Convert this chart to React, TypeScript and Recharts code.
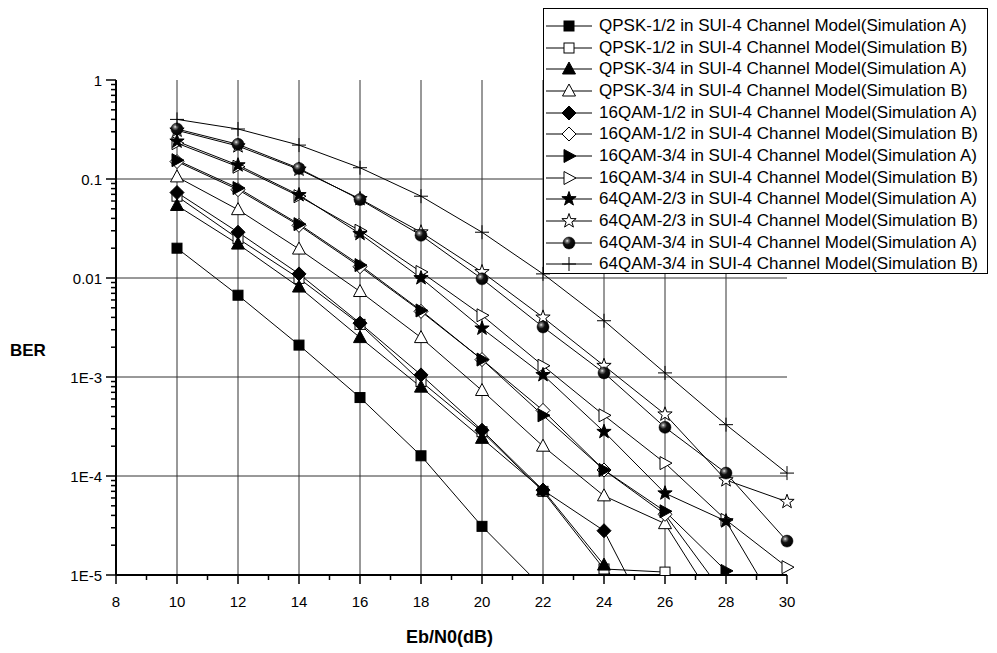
import React from 'react'
import { LineChart, Line, XAxis, YAxis, ReferenceLine } from 'recharts'

const xs = [10, 12, 14, 16, 18, 20, 22, 24, 26, 28, 30]

const qpsk12A = [0.02, 0.0067, 0.0021, 6.2e-4, 1.6e-4, 3.1e-5, 7.4e-6, null, null, null, null]
const qpsk12B = [0.067, 0.025, 0.0099, 0.0034, 9.0e-4, 2.8e-4, 7.0e-5, 1.15e-5, 1.07e-5, null, null]
const qpsk34A = [0.054, 0.022, 0.0081, 0.0025, 7.9e-4, 2.4e-4, 7.2e-5, 1.26e-5, 1.5e-6, null, null]
const qpsk34B = [0.105, 0.049, 0.0196, 0.0073, 0.0025, 7.3e-4, 2.0e-4, 6.3e-5, 3.3e-5, 3.5e-6, null]
const qam16_12A = [0.073, 0.029, 0.011, 0.0035, 0.00105, 2.9e-4, 7.2e-5, 2.8e-5, 1.8e-6, null, null]
const qam16_12B = [0.15, 0.078, 0.034, 0.013, 0.0046, 0.0015, 4.6e-4, 1.15e-4, 4.1e-5, 6e-6, null]
const qam16_34A = [0.155, 0.081, 0.035, 0.0135, 0.0047, 0.0015, 4.1e-4, 1.15e-4, 4.4e-5, 1.1e-5, 2e-6]
const qam16_34B = [0.23, 0.133, 0.067, 0.03, 0.0115, 0.0042, 0.0013, 4.1e-4, 1.35e-4, 3.6e-5, 1.2e-5]
const qam64_23A = [0.24, 0.138, 0.069, 0.028, 0.01, 0.0031, 0.00105, 2.8e-4, 6.7e-5, 3.5e-5, 3.2e-6]
const qam64_23B = [0.31, 0.215, 0.125, 0.063, 0.029, 0.0115, 0.004, 0.0013, 4.2e-4, 9.1e-5, 5.5e-5]
const qam64_34A = [0.32, 0.224, 0.128, 0.062, 0.027, 0.0098, 0.0032, 0.0011, 3.1e-4, 1.07e-4, 2.2e-5]
const qam64_34B = [0.4, 0.32, 0.22, 0.13, 0.067, 0.029, 0.011, 0.0037, 0.0011, 3.3e-4, 1.07e-4]

const series = [
  { key: 's0', name: 'QPSK-1/2 in SUI-4 Channel Model(Simulation A)', values: qpsk12A, shape: 'square', filled: true },
  { key: 's1', name: 'QPSK-1/2 in SUI-4 Channel Model(Simulation B)', values: qpsk12B, shape: 'square', filled: false },
  { key: 's2', name: 'QPSK-3/4 in SUI-4 Channel Model(Simulation A)', values: qpsk34A, shape: 'triUp', filled: true },
  { key: 's3', name: 'QPSK-3/4 in SUI-4 Channel Model(Simulation B)', values: qpsk34B, shape: 'triUp', filled: false },
  { key: 's4', name: '16QAM-1/2 in SUI-4 Channel Model(Simulation A)', values: qam16_12A, shape: 'diamond', filled: true },
  { key: 's5', name: '16QAM-1/2 in SUI-4 Channel Model(Simulation B)', values: qam16_12B, shape: 'diamond', filled: false },
  { key: 's6', name: '16QAM-3/4 in SUI-4 Channel Model(Simulation A)', values: qam16_34A, shape: 'triRight', filled: true },
  { key: 's7', name: '16QAM-3/4 in SUI-4 Channel Model(Simulation B)', values: qam16_34B, shape: 'triRight', filled: false },
  { key: 's8', name: '64QAM-2/3 in SUI-4 Channel Model(Simulation A)', values: qam64_23A, shape: 'star', filled: true },
  { key: 's9', name: '64QAM-2/3 in SUI-4 Channel Model(Simulation B)', values: qam64_23B, shape: 'star', filled: false },
  { key: 's10', name: '64QAM-3/4 in SUI-4 Channel Model(Simulation A)', values: qam64_34A, shape: 'ball', filled: true },
  { key: 's11', name: '64QAM-3/4 in SUI-4 Channel Model(Simulation B)', values: qam64_34B, shape: 'plus', filled: false },
]

const xTicks = [8, 9, 10, 11, 12, 13, 14, 15, 16, 17, 18, 19, 20, 21, 22, 23, 24, 25, 26, 27, 28, 29, 30]
const xGrid = [10, 12, 14, 16, 18, 20, 22, 24, 26, 28]
const yMajor = [1, 0.1, 0.01, 1e-3, 1e-4, 1e-5]
const yLabels = ['1', '0.1', '0.01', '1E-3', '1E-4', '1E-5']
const yGrid = [0.1, 0.01, 1e-3, 1e-4]

const yMinor: number[] = []
for (const d of [1e-5, 1e-4, 1e-3, 1e-2, 1e-1]) {
  for (let m = 2; m <= 9; m++) yMinor.push(m * d)
}
const yTicks = [...yMajor, ...yMinor].sort((a, b) => a - b)

const data = xs.map((x, i) => {
  const row: any = { x }
  series.forEach(s => { row[s.key] = s.values[i] })
  return row
})

const FONT = '"Liberation Sans", Arial, sans-serif'

function marker(shape: string, filled: boolean, cx: number, cy: number) {
  const fill = filled ? '#000' : '#fff'
  switch (shape) {
    case 'square':
      return <rect x={cx - 5} y={cy - 5} width={10} height={10} fill={fill} stroke="#000" strokeWidth={1} />
    case 'triUp':
      return <polygon points={`${cx},${cy - 7} ${cx + 6.5},${cy + 5} ${cx - 6.5},${cy + 5}`} fill={fill} stroke="#000" strokeWidth={1} />
    case 'diamond':
      return <polygon points={`${cx},${cy - 7} ${cx + 7},${cy} ${cx},${cy + 7} ${cx - 7},${cy}`} fill={fill} stroke="#000" strokeWidth={1} />
    case 'triRight':
      return <polygon points={`${cx - 5},${cy - 6.5} ${cx + 7},${cy} ${cx - 5},${cy + 6.5}`} fill={fill} stroke="#000" strokeWidth={1} />
    case 'star': {
      const pts: string[] = []
      for (let k = 0; k < 10; k++) {
        const r = k % 2 === 0 ? 7.5 : 3
        const a = -Math.PI / 2 + (k * Math.PI) / 5
        pts.push(`${cx + r * Math.cos(a)},${cy + r * Math.sin(a)}`)
      }
      return <polygon points={pts.join(' ')} fill={fill} stroke="#000" strokeWidth={1} />
    }
    case 'ball':
      return <circle cx={cx} cy={cy} r={6} fill="url(#ballGrad)" stroke="#000" strokeWidth={0.5} />
    case 'plus':
      return <path d={`M${cx - 7},${cy}H${cx + 7}M${cx},${cy - 7}V${cy + 7}`} stroke="#000" strokeWidth={1} fill="none" />
  }
  return null
}

const makeDot = (shape: string, filled: boolean) => (p: any) => {
  if (p.cx == null || p.cy == null || p.value == null) return <g key={`e-${p.index}`} />
  return <g key={`d-${p.index}`}>{marker(shape, filled, p.cx, p.cy)}</g>
}

const YTick = (props: any) => {
  const { x, y, payload } = props
  const idx = yMajor.findIndex(v => Math.abs(v - payload.value) / v < 1e-6)
  const major = idx >= 0
  return (
    <g>
      <line x1={x - (major ? 10 : 5)} x2={x} y1={y} y2={y} stroke="#000" strokeWidth={1.5} />
      {major && (
        <text x={x - 14} y={y} textAnchor="end" dominantBaseline="central" fontSize={15} fontFamily={FONT} fill="#000">
          {yLabels[idx]}
        </text>
      )}
    </g>
  )
}

const XTick = (props: any) => {
  const { x, y, payload } = props
  const major = payload.value % 2 === 0
  return (
    <g>
      <line x1={x} x2={x} y1={y} y2={y + (major ? 9 : 5)} stroke="#000" strokeWidth={1.5} />
      {major && (
        <text x={x} y={y + 26} textAnchor="middle" dominantBaseline="central" fontSize={15} fontFamily={FONT} fill="#000">
          {payload.value}
        </text>
      )}
    </g>
  )
}

function LegendBox() {
  return (
    <div style={{ position: 'absolute', left: 535, top: 0, width: 445, height: 266, border: '1px solid #000', background: '#fff', paddingTop: 6, boxSizing: 'border-box' }}>
      {series.map(s => (
        <div key={s.key} style={{ display: 'flex', alignItems: 'center', height: 21.7, fontFamily: FONT, fontSize: 17, color: '#000', whiteSpace: 'nowrap' }}>
          <svg width={46} height={20} style={{ marginLeft: 2, marginRight: 7, flex: 'none' }}>
            <line x1={0} x2={46} y1={10} y2={10} stroke="#000" strokeWidth={1} />
            {marker(s.shape, s.filled, 23, 10)}
          </svg>
          <span>{s.name}</span>
        </div>
      ))}
    </div>
  )
}

export default function App() {
  return (
    <div style={{ position: 'relative', width: 989, height: 640, fontFamily: FONT }}>
      <LineChart width={989} height={640} data={data} margin={{ top: 72, right: 210, bottom: 33, left: 0 }}>
        <defs>
          <radialGradient id="ballGrad" cx="35%" cy="32%" r="70%">
            <stop offset="0%" stopColor="#f0f0f0" />
            <stop offset="18%" stopColor="#777" />
            <stop offset="45%" stopColor="#111" />
            <stop offset="100%" stopColor="#000" />
          </radialGradient>
        </defs>
        <XAxis
          dataKey="x"
          type="number"
          domain={[8, 30]}
          ticks={xTicks}
          interval={0}
          height={40}
          tickSize={0}
          tickMargin={0}
          tickLine={false}
          axisLine={{ stroke: '#000', strokeWidth: 2 }}
          tick={<XTick />}
        />
        <YAxis
          scale="log"
          domain={[1e-5, 1]}
          allowDataOverflow
          ticks={yTicks}
          interval={0}
          width={108}
          tickSize={0}
          tickMargin={0}
          tickLine={false}
          axisLine={{ stroke: '#000', strokeWidth: 2 }}
          tick={<YTick />}
        />
        {xGrid.map(v => (
          <ReferenceLine key={`vx${v}`} x={v} stroke="#333" strokeWidth={1} />
        ))}
        {yGrid.map(v => (
          <ReferenceLine key={`hy${v}`} y={v} stroke="#333" strokeWidth={1} />
        ))}
        {series.map(s => (
          <Line
            key={s.key}
            dataKey={s.key}
            name={s.name}
            stroke="#000"
            strokeWidth={1}
            dot={makeDot(s.shape, s.filled)}
            activeDot={false}
            isAnimationActive={false}
            connectNulls={false}
          />
        ))}
      </LineChart>
      <LegendBox />
      <div style={{ position: 'absolute', left: 2, top: 333, fontSize: 17, fontWeight: 'bold', fontFamily: FONT }}>BER</div>
      <div style={{ position: 'absolute', left: 398, top: 619, fontSize: 18, fontWeight: 'bold', fontFamily: FONT }}>Eb/N0(dB)</div>
    </div>
  )
}
